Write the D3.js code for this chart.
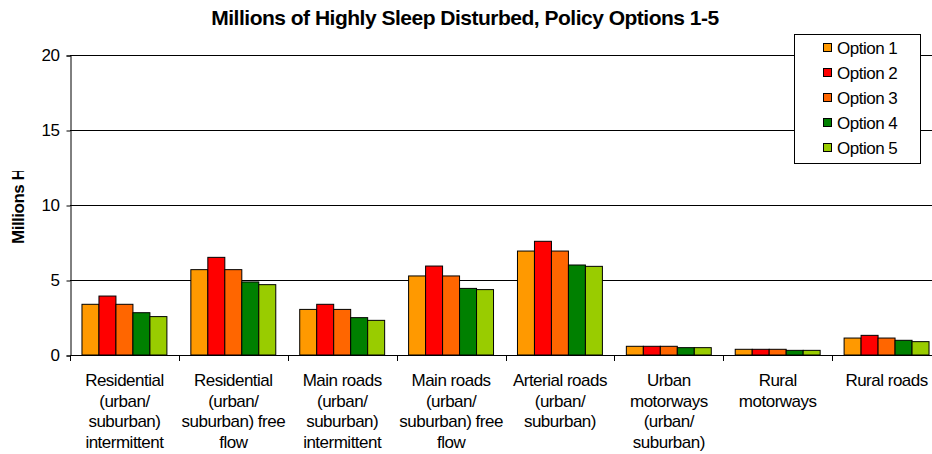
<!DOCTYPE html>
<html>
<head>
<meta charset="utf-8">
<script src="https://cdn.jsdelivr.net/npm/d3@7"></script>
<style>
  body { margin: 0; background: #fff; }
  text { font-family: Arial, "Liberation Sans", sans-serif; }
</style>
</head>
<body>
<svg id="svg" width="932" height="454"></svg>
<script>
// chart data
var categories = [
  ["Residential", "(urban/", "suburban)", "intermittent"],
  ["Residential", "(urban/", "suburban) free", "flow"],
  ["Main roads", "(urban/", "suburban)", "intermittent"],
  ["Main roads", "(urban/", "suburban) free", "flow"],
  ["Arterial roads", "(urban/", "suburban)"],
  ["Urban", "motorways", "(urban/", "suburban)"],
  ["Rural", "motorways"],
  ["Rural roads"]
];
var seriesNames = ["Option 1", "Option 2", "Option 3", "Option 4", "Option 5"];
var seriesColors = ["#FF9900", "#FF0000", "#FF6600", "#008000", "#99CC00"];
var option1 = [3.38, 5.69, 3.04, 5.27, 6.93, 0.58, 0.38, 1.13];
var option2 = [3.93, 6.51, 3.38, 5.93, 7.58, 0.58, 0.38, 1.31];
var option3 = [3.38, 5.69, 3.04, 5.27, 6.93, 0.58, 0.38, 1.13];
var option4 = [2.82, 4.87, 2.49, 4.44, 6.00, 0.49, 0.31, 0.98];
var option5 = [2.56, 4.69, 2.31, 4.36, 5.91, 0.49, 0.31, 0.89];
var yTicks = [0, 5, 10, 15, 20];

var allSeries = [option1, option2, option3, option4, option5];

var svg = d3.select("#svg");
var plotL = 70, plotR = 941, plotT = 55, plotB = 355;
var fs = "17px", ls = "-0.5px";

var x0 = d3.scaleBand()
    .domain(d3.range(categories.length))
    .range([plotL, plotR])
    .paddingInner(0.22)
    .paddingOuter(0.11);
var x1 = d3.scaleBand()
    .domain(d3.range(seriesNames.length))
    .range([0, x0.bandwidth()]);
var y = d3.scaleLinear().domain([0, 20]).range([plotB, plotT]);
var step = (plotR - plotL) / categories.length;

// title
svg.append("text")
    .attr("x", 465).attr("y", 25)
    .attr("text-anchor", "middle")
    .style("font-size", "21px").style("font-weight", "bold")
    .style("letter-spacing", "-0.5px")
    .text("Millions of Highly Sleep Disturbed, Policy Options 1-5");

// gridlines
svg.append("g")
    .selectAll("line")
    .data(yTicks.filter(function (d) { return d > 0; }))
    .enter().append("line")
    .attr("x1", plotL).attr("x2", plotR)
    .attr("y1", function (d) { return Math.round(y(d)) + 0.5; })
    .attr("y2", function (d) { return Math.round(y(d)) + 0.5; })
    .attr("stroke", "#000").attr("stroke-width", 1);

// y axis
var yAxis = svg.append("g")
    .attr("transform", "translate(" + (plotL + 0.5) + ",0.5)")
    .call(d3.axisLeft(y).tickValues(yTicks).tickSize(4).tickPadding(7));
yAxis.select(".domain").attr("stroke", "#000");
yAxis.selectAll("line").attr("stroke", "#000");
yAxis.selectAll("text")
    .style("font-size", fs).style("letter-spacing", ls)
    .attr("fill", "#000");

// y label, clipped like the source
svg.append("clipPath").attr("id", "ylab")
    .append("rect").attr("x", 0).attr("y", 171).attr("width", 40).attr("height", 120);
svg.append("g")
    .attr("clip-path", "url(#ylab)")
    .append("text")
    .attr("transform", "translate(24,244) rotate(-90)")
    .attr("text-anchor", "start")
    .style("font-size", fs).style("font-weight", "bold")
    .style("letter-spacing", ls)
    .text("Millions HSD");

// bars
var groups = svg.append("g")
    .selectAll("g")
    .data(categories)
    .enter().append("g")
    .attr("transform", function (d, i) { return "translate(" + x0(i) + ",0)"; });

groups.selectAll("rect")
    .data(function (d, i) { return allSeries.map(function (s, j) { return { s: j, v: s[i] }; }); })
    .enter().append("rect")
    .attr("x", function (d) { return x1(d.s); })
    .attr("y", function (d) { return y(d.v); })
    .attr("width", x1.bandwidth())
    .attr("height", function (d) { return plotB - y(d.v); })
    .attr("fill", function (d) { return seriesColors[d.s]; })
    .attr("stroke", "#000").attr("stroke-width", 1);

// x axis
var xg = svg.append("g");
xg.append("line")
    .attr("x1", plotL).attr("x2", plotR)
    .attr("y1", plotB + 0.5).attr("y2", plotB + 0.5)
    .attr("stroke", "#000");
xg.selectAll(".tk")
    .data(d3.range(categories.length + 1))
    .enter().append("line")
    .attr("x1", function (d) { return Math.round(plotL + d * step) + 0.5; })
    .attr("x2", function (d) { return Math.round(plotL + d * step) + 0.5; })
    .attr("y1", plotB).attr("y2", plotB + 6)
    .attr("stroke", "#000");

var labels = xg.selectAll(".lbl")
    .data(categories)
    .enter().append("text")
    .attr("text-anchor", "middle")
    .style("font-size", fs).style("letter-spacing", ls);
labels.selectAll("tspan")
    .data(function (d, i) { return d.map(function (t) { return { t: t, i: i }; }); })
    .enter().append("tspan")
    .attr("x", function (d) { return plotL + (d.i + 0.5) * step; })
    .attr("y", function (d, k) { return 386 + k * 20.5; })
    .text(function (d) { return d.t; });

// legend
var lg = svg.append("g");
lg.append("rect")
    .attr("x", 794.5).attr("y", 34.5).attr("width", 126).attr("height", 129)
    .attr("fill", "#fff").attr("stroke", "#000");
var items = lg.selectAll(".it")
    .data(seriesNames)
    .enter().append("g")
    .attr("transform", function (d, i) { return "translate(0," + (48 + i * 25) + ")"; });
items.append("rect")
    .attr("x", 823.5).attr("y", -4.5).attr("width", 8).attr("height", 8)
    .attr("fill", function (d, i) { return seriesColors[i]; })
    .attr("stroke", "#000");
items.append("text")
    .attr("x", 837).attr("y", 6)
    .style("font-size", fs).style("letter-spacing", ls)
    .text(function (d) { return d; });
</script>
</body>
</html>
